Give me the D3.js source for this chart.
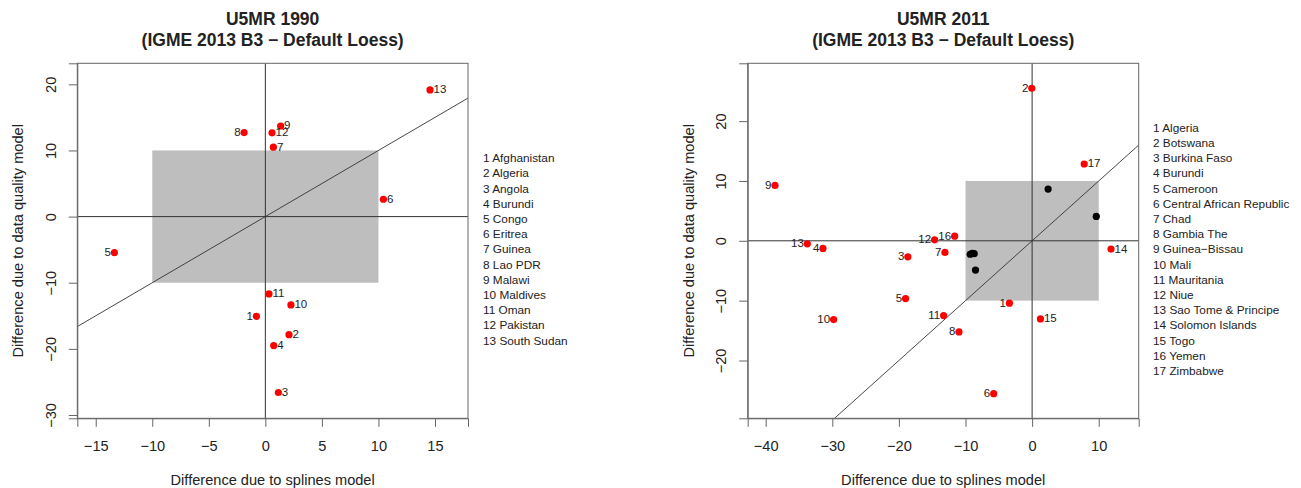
<!DOCTYPE html>
<html>
<head>
<meta charset="utf-8">
<script src="https://cdn.jsdelivr.net/npm/d3@7"></script>
<style>
body{margin:0;background:#fff;}
text{font-family:"Liberation Sans",Arial,sans-serif;fill:#222;}
</style>
</head>
<body>
<div id="chart"></div>
<script>
// 1990 panel data
const names1990 = ["Afghanistan","Algeria","Angola","Burundi","Congo","Eritrea","Guinea","Lao PDR","Malawi","Maldives","Oman","Pakistan","South Sudan"];
const splines1990 = [-0.79,2.09,1.15,0.74,-13.35,10.44,0.71,-1.88,1.35,2.26,0.32,0.59,14.56];
const quality1990 = [-15.08,-17.85,-26.6,-19.5,-5.45,2.62,10.49,12.7,13.7,-13.36,-11.7,12.66,19.16];
const xTicks1990 = [-15,-10,-5,0,5,10,15];
const yTicks1990 = [-30,-20,-10,0,10,20];

// 2011 panel data
const names2011 = ["Algeria","Botswana","Burkina Faso","Burundi","Cameroon","Central African Republic","Chad","Gambia The","Guinea\u2212Bissau","Mali","Mauritania","Niue","Sao Tome & Principe","Solomon Islands","Togo","Yemen","Zimbabwe"];
const splines2011 = [-3.41,-0.05,-18.66,-31.4,-19.0,-5.77,-13.09,-10.98,-38.6,-29.8,-13.29,-14.64,-33.75,11.84,1.25,-11.63,7.82];
const quality2011 = [-10.43,25.49,-2.68,-1.28,-9.65,-25.54,-1.95,-15.23,9.26,-13.16,-12.49,0.17,-0.5,-1.39,-13.05,0.78,12.83];
// unlabelled (inside the band) countries
const splinesIn2011 = [2.4,9.63,-9.3,-9.0,-8.7,-8.5];
const qualityIn2011 = [8.65,4.07,-2.25,-2.1,-2.15,-4.9];
const xTicks2011 = [-40,-30,-20,-10,0,10];
const yTicks2011 = [-20,-10,0,10,20];

const W = 1301, H = 488;
const svg = d3.select("#chart").append("svg").attr("width",W).attr("height",H);
const minus = d => String(d).replace("-","\u2212");

function panel(o){
  const x = d3.scaleLinear().domain(o.xDom).range([o.left,o.right]);
  const y = d3.scaleLinear().domain(o.yDom).range([o.bottom,o.top]);
  const g = svg.append("g");
  const clipId = "clip"+o.id;
  g.append("clipPath").attr("id",clipId).append("rect")
    .attr("x",o.left).attr("y",o.top).attr("width",o.right-o.left).attr("height",o.bottom-o.top);
  const inner = g.append("g").attr("clip-path","url(#"+clipId+")");

  // grey band -10..10
  inner.append("rect")
    .attr("x",x(-10)).attr("y",y(10))
    .attr("width",x(10)-x(-10)).attr("height",y(-10)-y(10))
    .attr("fill","#bebebe");
  // zero lines
  inner.append("line").attr("x1",o.left).attr("x2",o.right).attr("y1",y(0)).attr("y2",y(0)).attr("stroke","#333");
  inner.append("line").attr("x1",x(0)).attr("x2",x(0)).attr("y1",o.top).attr("y2",o.bottom).attr("stroke","#333");
  // y = x line
  const lo = Math.min(o.xDom[0],o.yDom[0]), hi = Math.max(o.xDom[1],o.yDom[1]);
  inner.append("line").attr("x1",x(lo)).attr("y1",y(lo)).attr("x2",x(hi)).attr("y2",y(hi))
    .attr("stroke","#333").attr("stroke-width",0.9);

  // black points
  if(o.bx){
    inner.selectAll("circle.blk").data(o.bx).enter().append("circle")
      .attr("class","blk").attr("cx",d=>x(d)).attr("cy",(d,i)=>y(o.by[i])).attr("r",3.6).attr("fill","#000");
  }
  // red points + numbers
  inner.selectAll("circle.red").data(o.xs).enter().append("circle")
    .attr("class","red").attr("cx",d=>x(d)).attr("cy",(d,i)=>y(o.ys[i])).attr("r",3.6).attr("fill","#ff0000");
  inner.selectAll("text.lab").data(o.xs).enter().append("text")
    .attr("class","lab")
    .attr("x",d=> d<0 ? x(d)-3.5 : x(d)+3.5)
    .attr("y",(d,i)=>y(o.ys[i]))
    .attr("dy","0.3em")
    .attr("text-anchor",d=> d<0 ? "end" : "start")
    .style("font-size","11.5px")
    .text((d,i)=>i+1);

  // box
  g.append("rect").attr("x",o.left).attr("y",o.top).attr("width",o.right-o.left).attr("height",o.bottom-o.top)
    .attr("fill","none").attr("stroke","#666");

  // axes
  const xa = g.append("g").attr("transform","translate(0,"+o.bottom+")")
    .call(d3.axisBottom(x).tickValues(o.xTicks).tickSize(8.5).tickPadding(14).tickFormat(minus));
  const ya = g.append("g").attr("transform","translate("+o.left+",0)")
    .call(d3.axisLeft(y).tickValues(o.yTicks).tickSize(8.5).tickFormat(minus));
  [xa,ya].forEach(a=>{
    a.select(".domain").attr("stroke","#666");
    a.selectAll(".tick line").attr("stroke","#666");
    a.selectAll("text").style("font-size","14.6px").attr("font-family",null).attr("fill","#222");
  });
  ya.selectAll(".tick text")
    .attr("x",null).attr("dy",null)
    .attr("text-anchor","middle")
    .attr("transform","translate(-26.6,0) rotate(-90) translate(0,5.2)");

  const cx = (o.left+o.right)/2, cy = (o.top+o.bottom)/2;
  // axis titles
  g.append("text").attr("x",cx).attr("y",485).attr("text-anchor","middle").style("font-size","14.6px")
    .text("Difference due to splines model");
  g.append("text").attr("transform","translate("+(o.left-59)+","+cy+") rotate(-90)")
    .attr("dy","0.35em").attr("text-anchor","middle").style("font-size","14.6px")
    .text("Difference due to data quality model");
  // main title
  g.append("text").attr("x",cx).attr("y",25.3).attr("text-anchor","middle")
    .style("font-size","17.5px").style("font-weight","bold").text(o.title);
  g.append("text").attr("x",cx).attr("y",46.3).attr("text-anchor","middle")
    .style("font-size","17.5px").style("font-weight","bold").text("(IGME 2013 B3 \u2212 Default Loess)");

  // country key
  g.selectAll("text.key").data(o.names).enter().append("text")
    .attr("class","key")
    .attr("x",o.keyX).attr("y",(d,i)=>o.keyY+i*15.2)
    .attr("dy","0.35em")
    .style("font-size","11.8px")
    .text((d,i)=>(i+1)+" "+d);
}

panel({id:1,left:77.3,right:468,top:63.3,bottom:418.3,
  xDom:[-16.63,17.92],yDom:[-30.5,23.18],
  xs:splines1990,ys:quality1990,names:names1990,
  xTicks:xTicks1990,yTicks:yTicks1990,
  title:"U5MR 1990",keyX:483,keyY:158});

panel({id:2,left:747.7,right:1138.7,top:63.3,bottom:418.3,
  xDom:[-42.7,16.0],yDom:[-29.66,29.66],
  xs:splines2011,ys:quality2011,bx:splinesIn2011,by:qualityIn2011,names:names2011,
  xTicks:xTicks2011,yTicks:yTicks2011,
  title:"U5MR 2011",keyX:1153,keyY:127.7});
</script>
</body>
</html>
